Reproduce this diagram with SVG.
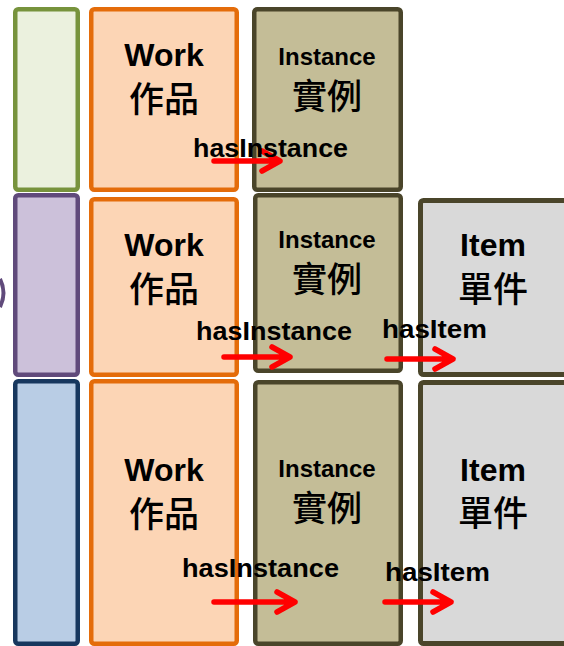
<svg xmlns="http://www.w3.org/2000/svg" width="564" height="646" viewBox="0 0 564 646">
<defs>
<style>
.box{stroke-width:4.5}
.g{fill:#EBF1DE;stroke:#77933C}
.p{fill:#CCC1DA;stroke:#604A7B}
.b{fill:#B9CDE5;stroke:#17375E}
.o{fill:#FCD5B5;stroke:#E46C0A}
.i{fill:#C4BD97;stroke:#4A452A}
.it{fill:#D9D9D9;stroke:#4A452A;stroke-width:5}
.t{font-family:"Liberation Sans",Arial,sans-serif;font-weight:bold;fill:#000;text-anchor:middle}
.c{font-family:"Noto Sans CJK TC","Noto Sans CJK SC",sans-serif;font-weight:500;fill:#000;text-anchor:middle}
.w{font-size:32px}
.n{font-size:24px}
.m{font-size:32px}
.cj{font-size:35px}
.lab{font-family:"Liberation Sans",Arial,sans-serif;font-weight:bold;font-size:25px;fill:#000}
.arr{fill:none;stroke:#FF0000;stroke-width:5.5;stroke-linecap:round;stroke-linejoin:round}
</style>
</defs>
<path d="M0,279 Q7,293 0,307" fill="none" stroke="#604A7B" stroke-width="4"/>
<g id="row1-side"><rect class="box g" x="15.25" y="9.25" width="62.5" height="180.5" rx="3"/></g>
<g id="row1-work"><rect class="box o" x="91.25" y="9.25" width="145.5" height="180.5" rx="3"/><text class="t w" x="164" y="66">Work</text><text class="c cj" x="164" y="112">作品</text></g>
<g id="row1-instance"><rect class="box i" x="254.25" y="9.25" width="146.5" height="180.5" rx="3"/><text class="t n" x="327" y="65">Instance</text><text class="c cj" x="327" y="109">實例</text></g>
<g id="row2-side"><rect class="box p" x="15.25" y="195.25" width="62.5" height="179.5" rx="3"/></g>
<g id="row2-work"><rect class="box o" x="91.25" y="199.25" width="145.5" height="175.5" rx="3"/><text class="t w" x="164" y="256">Work</text><text class="c cj" x="164" y="302">作品</text></g>
<g id="row2-instance"><rect class="box i" x="255.25" y="195.25" width="145.5" height="175.5" rx="3"/><text class="t n" x="327" y="248">Instance</text><text class="c cj" x="327" y="292">實例</text></g>
<g id="row2-item"><rect class="box it" x="420.5" y="200.5" width="150" height="174" rx="3"/><text class="t m" x="493" y="256">Item</text><text class="c cj" x="493" y="302">單件</text></g>
<g id="row3-side"><rect class="box b" x="15.25" y="381.25" width="62.5" height="262.5" rx="3"/></g>
<g id="row3-work"><rect class="box o" x="91.25" y="381.25" width="145.5" height="262.5" rx="3"/><text class="t w" x="164" y="481">Work</text><text class="c cj" x="164" y="527">作品</text></g>
<g id="row3-instance"><rect class="box i" x="255.25" y="382.25" width="145.5" height="261.5" rx="3"/><text class="t n" x="327" y="477">Instance</text><text class="c cj" x="327" y="521">實例</text></g>
<g id="row3-item"><rect class="box it" x="420.5" y="382.5" width="150" height="261" rx="3"/><text class="t m" x="493" y="481">Item</text><text class="c cj" x="493" y="526">單件</text></g>
<g id="connectors">
<path class="arr" d="M214,161 H280 M262,151 L280,161 L262,171"/>
<text class="lab" x="193" y="157" textLength="155" lengthAdjust="spacingAndGlyphs">hasInstance</text>
<path class="arr" d="M224,357 H290 M272,347 L290,357 L272,367"/>
<text class="lab" x="196" y="340" textLength="156" lengthAdjust="spacingAndGlyphs">hasInstance</text>
<path class="arr" d="M387,359 H453 M435,349 L453,359 L435,369"/>
<text class="lab" x="382" y="338" textLength="105" lengthAdjust="spacingAndGlyphs">hasItem</text>
<path class="arr" d="M214,602 H295 M277,592 L295,602 L277,612"/>
<text class="lab" x="182" y="577" textLength="157" lengthAdjust="spacingAndGlyphs">hasInstance</text>
<path class="arr" d="M385,602 H451 M433,592 L451,602 L433,612"/>
<text class="lab" x="385" y="581" textLength="105" lengthAdjust="spacingAndGlyphs">hasItem</text>
</g>
</svg>
